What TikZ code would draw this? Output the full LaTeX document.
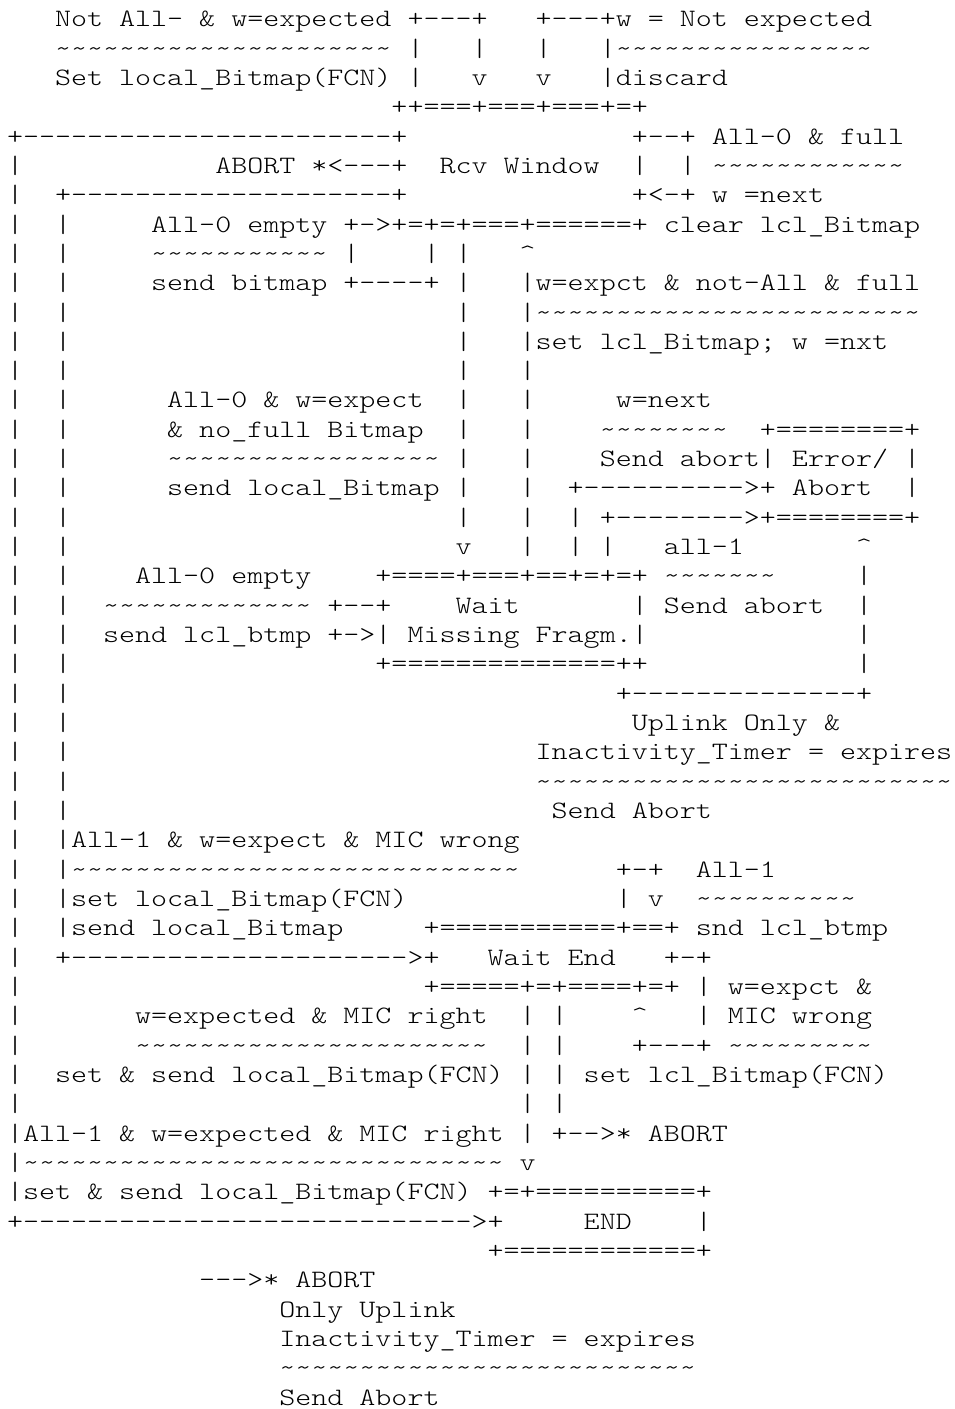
\documentclass[tikz,border=0pt]{standalone}
\usepackage{fontspec}
% thin typewriter face, widened to a 16pt cell
\newfontfamily\asciifont{lmmonolt10-regular}[Extension=.otf, Ligatures=TeXOff, FakeStretch=1.2206]

% n blank cells
\newcommand\asp[1]{\hskip#1\fontdimen2\font}
% a character repeated n times
\newcount\arunc
\newcommand\arun[2]{\arunc=#1\relax\loop\ifnum\arunc>0 #2\advance\arunc by -1\relax\repeat}
% one text row of the chart, placed by its row number
\newcommand\asciirow[2]{\node[asciiline] (l#1) at (7,{-26.7-(#1-1)*29.33}) {#2};}

\begin{document}
\catcode`\~=12 \catcode`\_=12 \catcode`\^=12 \catcode`\&=12
\begin{tikzpicture}[x=1pt,y=1pt,
  asciiline/.style={anchor=base west, inner sep=0pt, outer sep=0pt, text=black,
    font={\asciifont\fontsize{25}{29.33}\selectfont\frenchspacing
      \fontdimen2\font=\fontcharwd\font`\0\relax
      \fontdimen3\font=0pt\relax\fontdimen4\font=0pt\relax}}]
\useasboundingbox (0,0) rectangle (955,-1409);

\asciirow{1}{\asp{3}Not All- & w=expected +---+\asp{3}+---+w = Not expected}
\asciirow{2}{\asp{3}\arun{21}{~} |\asp{3}|\asp{3}|\asp{3}|\arun{16}{~}}
\asciirow{3}{\asp{3}Set local_Bitmap(FCN) |\asp{3}v\asp{3}v\asp{3}|discard}
\asciirow{4}{\asp{24}++===+===+===+=+}
\asciirow{5}{+\arun{23}{-}+\asp{14}+--+ All-0 & full}
\asciirow{6}{|\asp{12}ABORT *<---+\asp{2}Rcv Window\asp{2}|\asp{2}| \arun{12}{~}}
\asciirow{7}{|\asp{2}+\arun{20}{-}+\asp{14}+<-+ w =next}
\asciirow{8}{|\asp{2}|\asp{5}All-0 empty +->+=+=+===+======+ clear lcl_Bitmap}
\asciirow{9}{|\asp{2}|\asp{5}\arun{11}{~} |\asp{4}| |\asp{3}^}
\asciirow{10}{|\asp{2}|\asp{5}send bitmap +----+ |\asp{3}|w=expct & not-All & full}
\asciirow{11}{|\asp{2}|\asp{24}|\asp{3}|\arun{24}{~}}
\asciirow{12}{|\asp{2}|\asp{24}|\asp{3}|set lcl_Bitmap; w =nxt}
\asciirow{13}{|\asp{2}|\asp{24}|\asp{3}|}
\asciirow{14}{|\asp{2}|\asp{6}All-0 & w=expect\asp{2}|\asp{3}|\asp{5}w=next}
\asciirow{15}{|\asp{2}|\asp{6}& no_full Bitmap\asp{2}|\asp{3}|\asp{4}\arun{8}{~}\asp{2}+\arun{8}{=}+}
\asciirow{16}{|\asp{2}|\asp{6}\arun{17}{~} |\asp{3}|\asp{4}Send abort| Error/ |}
\asciirow{17}{|\asp{2}|\asp{6}send local_Bitmap |\asp{3}|\asp{2}+\arun{10}{-}>+ Abort\asp{2}|}
\asciirow{18}{|\asp{2}|\asp{24}|\asp{3}|\asp{2}| +\arun{8}{-}>+\arun{8}{=}+}
\asciirow{19}{|\asp{2}|\asp{24}v\asp{3}|\asp{2}| |\asp{3}all-1\asp{7}^}
\asciirow{20}{|\asp{2}|\asp{4}All-0 empty\asp{4}+====+===+==+=+=+ \arun{7}{~}\asp{5}|}
\asciirow{21}{|\asp{2}|\asp{2}\arun{13}{~} +--+\asp{4}Wait\asp{7}| Send abort\asp{2}|}
\asciirow{22}{|\asp{2}|\asp{2}send lcl_btmp +->| Missing Fragm.|\asp{13}|}
\asciirow{23}{|\asp{2}|\asp{19}+\arun{14}{=}++\asp{13}|}
\asciirow{24}{|\asp{2}|\asp{34}+\arun{14}{-}+}
\asciirow{25}{|\asp{2}|\asp{35}Uplink Only &}
\asciirow{26}{|\asp{2}|\asp{29}Inactivity_Timer = expires}
\asciirow{27}{|\asp{2}|\asp{29}\arun{26}{~}}
\asciirow{28}{|\asp{2}|\asp{30}Send Abort}
\asciirow{29}{|\asp{2}|All-1 & w=expect & MIC wrong}
\asciirow{30}{|\asp{2}|\arun{28}{~}\asp{6}+-+\asp{2}All-1}
\asciirow{31}{|\asp{2}|set local_Bitmap(FCN)\asp{13}| v\asp{2}\arun{10}{~}}
\asciirow{32}{|\asp{2}|send local_Bitmap\asp{5}+\arun{11}{=}+==+ snd lcl_btmp}
\asciirow{33}{|\asp{2}+\arun{21}{-}>+\asp{3}Wait End\asp{3}+-+}
\asciirow{34}{|\asp{25}+=====+=+====+=+ | w=expct &}
\asciirow{35}{|\asp{7}w=expected & MIC right\asp{2}| |\asp{4}^\asp{3}| MIC wrong}
\asciirow{36}{|\asp{7}\arun{22}{~}\asp{2}| |\asp{4}+---+ \arun{9}{~}}
\asciirow{37}{|\asp{2}set & send local_Bitmap(FCN) | | set lcl_Bitmap(FCN)}
\asciirow{38}{|\asp{31}| |}
\asciirow{39}{|All-1 & w=expected & MIC right | +-->* ABORT}
\asciirow{40}{|\arun{30}{~} v}
\asciirow{41}{|set & send local_Bitmap(FCN) +=+\arun{10}{=}+}
\asciirow{42}{+\arun{28}{-}>+\asp{5}END\asp{4}|}
\asciirow{43}{\asp{30}+\arun{12}{=}+}
\asciirow{44}{\asp{12}--->* ABORT}
\asciirow{45}{\asp{17}Only Uplink}
\asciirow{46}{\asp{17}Inactivity_Timer = expires}
\asciirow{47}{\asp{17}\arun{26}{~}}
\asciirow{48}{\asp{17}Send Abort}
\end{tikzpicture}
\end{document}
